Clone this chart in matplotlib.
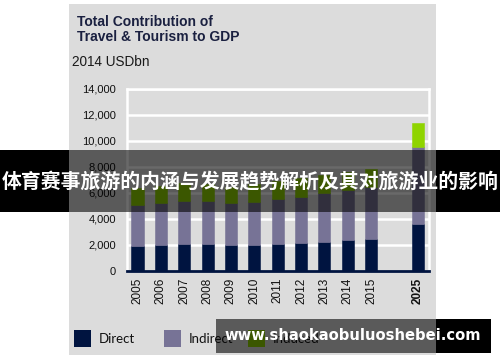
import matplotlib
matplotlib.use("Agg")
import matplotlib.pyplot as plt
import numpy as np
from matplotlib.patches import Rectangle
from matplotlib.ticker import FuncFormatter

# data (2014 USD bn)
years = ['2005', '2006', '2007', '2008', '2009', '2010',
         '2011', '2012', '2013', '2014', '2015', '2025']
direct = [1950, 2000, 2060, 2040, 1960, 2010, 2080, 2150, 2230, 2365, 2450, 3590]
indirect = [3100, 3250, 3340, 3360, 3240, 3290, 3420, 3550, 3720, 3835, 4000, 5910]
induced = [1350, 1300, 1350, 1300, 1250, 1350, 1400, 1400, 1400, 1380, 1400, 1880]
series_names = ['Direct', 'Indirect', 'Induced']
series_colors = ['#001440', '#777396', '#8fd400']

W, H = 500, 362
PANEL = '#dcdcdc'
NAVY = '#1a2040'

plt.rcParams['font.family'] = ['Liberation Sans', 'DejaVu Sans']


def fx(px):
    return px / W


def fy(py):
    return 1 - py / H


def fig_rect(fig, x0, y0, x1, y1, **kw):
    r = Rectangle((fx(x0), fy(y1)), fx(x1) - fx(x0), fy(y0) - fy(y1),
                  transform=fig.transFigure, **kw)
    fig.patches.append(r)


fig = plt.figure(figsize=(W / 100, H / 100), dpi=100)

# grey panel behind the chart
fig_rect(fig, 69, 4, 436, 355, facecolor=PANEL, edgecolor='none', zorder=-5)

ax = fig.add_axes([fx(127), fy(271), fx(429) - fx(127), fy(88.5) - fy(271)])
ax.set_facecolor('none')

# 2025 sits two slots after 2015
pos = np.array([i if i < 11 else i + 1 for i in range(len(years))])
bottom = np.zeros(len(years))
for vals, name, col in zip([direct, indirect, induced], series_names, series_colors):
    ax.bar(pos, vals, width=0.52, bottom=bottom, color=col,
           edgecolor=col, linewidth=0.4, zorder=3, label=name)
    bottom += np.array(vals)

ax.set_ylim(0, 14000)
ax.set_xlim(-0.45, 12.48)
ax.set_yticks(np.arange(0, 14001, 2000))
ax.yaxis.set_major_formatter(FuncFormatter(lambda v, p: f'{int(v):,}'))
ax.yaxis.grid(True, color='white', linewidth=1.8, zorder=0)
ax.set_axisbelow(True)

for side in ['top', 'right', 'left']:
    ax.spines[side].set_color('white')
    ax.spines[side].set_linewidth(1.8)
ax.spines['bottom'].set_color('#001440')
ax.spines['bottom'].set_linewidth(2)
ax.spines['bottom'].set_zorder(4)

ax.tick_params(axis='y', length=0, pad=8, labelsize=8, labelcolor='#111111')
ax.tick_params(axis='x', length=0, pad=5, labelsize=8.5, labelcolor='#111111')
ax.set_xticks(pos)
ax.set_xticklabels(years, rotation=90)
ax.get_xticklabels()[-1].set_fontweight('bold')

# titles
fig.text(fx(77), fy(26), 'Total Contribution of', fontsize=10,
         fontweight='bold', color=NAVY, va='baseline')
fig.text(fx(77), fy(41), 'Travel & Tourism to GDP', fontsize=10,
         fontweight='bold', color=NAVY, va='baseline')
fig.text(fx(72), fy(66), '2014 USDbn', fontsize=9.8, color='#1a1a1a',
         va='baseline')

# legend
leg_x = [74, 164, 248]
for x0, name, col in zip(leg_x, series_names, series_colors):
    fig_rect(fig, x0, 330, x0 + 17, 347, facecolor=col, edgecolor='none')
    fig.text(fx(x0 + 25), fy(339), name, fontsize=9.5, family='Lato',
             color='#111111', va='center')

# banner overlay
fig_rect(fig, 0, 150, 69, 212, facecolor='black', edgecolor='none', zorder=10)
fig_rect(fig, 69, 150, 436, 212, facecolor='black', alpha=0.59,
         edgecolor='none', zorder=10)
fig_rect(fig, 436, 150, 500, 212, facecolor='black', edgecolor='none', zorder=10)
fig.text(0.5, fy(182), '体育赛事旅游的内涵与发展趋势解析及其对旅游业的影响',
         family=['Noto Sans CJK SC', 'DejaVu Sans'], fontweight='bold',
         fontsize=14.3, color='white', ha='center', va='center', zorder=11)

# watermark overlay
fig_rect(fig, 216, 319, 436, 353, facecolor='black', alpha=0.59,
         edgecolor='none', zorder=10)
fig_rect(fig, 436, 319, 491, 353, facecolor='black', edgecolor='none', zorder=10)
fig.text(fx(353), fy(336), 'www.shaokaobuluoshebei.com',
         family='DejaVu Sans', fontweight='bold', fontsize=10.6,
         color='white', ha='center', va='center', zorder=11)

fig.savefig('out.png', dpi=100)
